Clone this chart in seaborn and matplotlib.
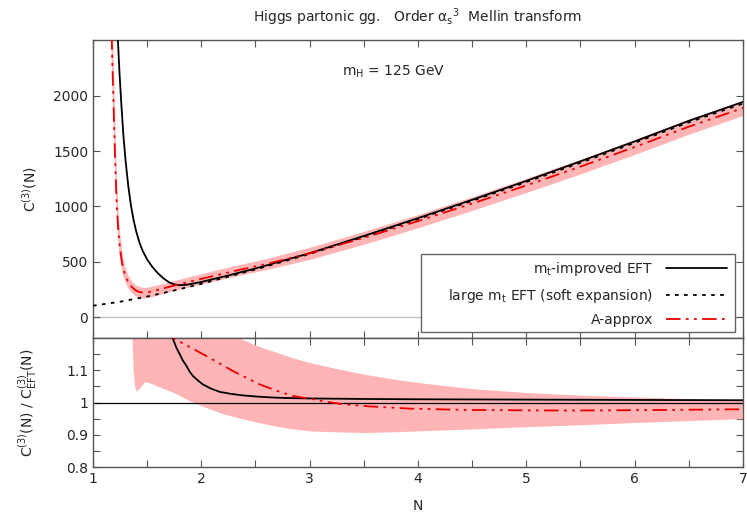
import numpy as np
import seaborn as sns
import matplotlib.pyplot as plt
from matplotlib.patches import Rectangle
from matplotlib.ticker import MultipleLocator, FixedLocator

sns.set_style('ticks')
plt.rcParams['font.family'] = ['DejaVu Sans']
plt.rcParams['mathtext.fontset'] = 'dejavusans'
plt.rcParams['font.size'] = 10

# ---- upper panel: C^(3)(N) ----
n_eft = [1.0, 1.25, 1.5, 1.75, 2.0, 2.5, 3.0, 3.5, 4.0, 4.5, 5.0, 5.5, 6.0, 6.5, 7.0]
c_eft = [102, 138, 185, 240, 300, 430, 570, 725, 885, 1050, 1220, 1395, 1575, 1760, 1930]

n_mt = [1.22, 1.23, 1.245, 1.26, 1.28, 1.30, 1.325, 1.35, 1.375, 1.40, 1.43, 1.46, 1.50,
        1.55, 1.60, 1.65, 1.70, 1.75, 1.80, 1.85, 1.90, 2.0, 2.25, 2.5, 3.0, 3.5,
        4.0, 4.5, 5.0, 5.5, 6.0, 6.5, 7.0]
c_mt = [2750, 2500, 2200, 1950, 1650, 1420, 1190, 1010, 875, 770, 670, 595, 520,
        450, 395, 350, 315, 295, 288, 290, 298, 317, 376, 439, 577, 733,
        894, 1060, 1231, 1408, 1588, 1774, 1945]

n_a = [1.15, 1.165, 1.18, 1.19, 1.20, 1.21, 1.22, 1.235, 1.25, 1.27, 1.29, 1.32, 1.35, 1.39,
       1.43, 1.47, 1.52, 1.6, 1.75, 2.0, 2.3, 2.6, 3.0, 3.5, 4.0, 4.5, 5.0, 5.5, 6.0, 6.5, 7.0]
c_a = [3300, 2800, 2250, 1900, 1560, 1250, 990, 760, 610, 480, 400, 325, 280, 243,
       225, 220, 226, 246, 285, 345, 415, 479, 576, 716, 867, 1026, 1190, 1360, 1537, 1721, 1890]
c_a_lo = [2900, 2420, 1910, 1600, 1300, 1030, 810, 620, 500, 395, 330, 267, 228, 193,
          175, 172, 179, 200, 240, 298, 367, 429, 521, 658, 807, 964, 1126, 1294, 1470, 1653, 1822]
c_a_hi = [3700, 3180, 2590, 2200, 1820, 1470, 1170, 900, 720, 565, 470, 383, 332, 293,
          275, 268, 273, 292, 330, 392, 463, 529, 631, 774, 927, 1088, 1254, 1426, 1604, 1789, 1958]

# ---- lower panel: ratio to large-mt EFT ----
n_rmt = [1.70, 1.738, 1.77, 1.80, 1.83, 1.862, 1.89, 1.923, 1.97, 2.015, 2.09, 2.17, 2.27,
         2.385, 2.53, 2.69, 2.85, 3.03, 3.5, 4.0, 5.0, 6.0, 7.0]
r_mt = [1.26, 1.197, 1.17, 1.15, 1.13, 1.114, 1.097, 1.082, 1.068, 1.056, 1.043, 1.033, 1.027,
        1.022, 1.018, 1.015, 1.0135, 1.0125, 1.011, 1.01, 1.009, 1.008, 1.007]

n_ra = [1.70, 1.754, 2.015, 2.29, 2.54, 2.7, 2.85, 3.03, 3.12, 3.3, 3.55, 3.93, 4.45, 5.37, 6.3, 7.0]
r_a = [1.235, 1.197, 1.15, 1.098, 1.056, 1.036, 1.02, 1.01, 1.004, 0.995, 0.988, 0.981, 0.977,
       0.975, 0.977, 0.979]

n_band = [1.355, 1.36, 1.37, 1.385, 1.40, 1.43, 1.48, 1.53, 1.6, 1.75, 1.9, 2.0, 2.2, 2.35,
          2.5, 2.6, 2.7, 2.85, 3.0, 3.25, 3.5, 3.75, 4.0, 4.5, 5.0, 5.5, 6.0, 6.5, 7.0]
r_band_lo = [1.3, 1.2, 1.10, 1.05, 1.035, 1.045, 1.065, 1.06, 1.05, 1.03, 1.004, 0.99, 0.965, 0.952,
             0.94, 0.933, 0.926, 0.918, 0.912, 0.909, 0.907, 0.909, 0.912, 0.918, 0.925, 0.931,
             0.938, 0.944, 0.95]
r_band_hi = [1.3, 1.3, 1.3, 1.3, 1.3, 1.3, 1.3, 1.3, 1.3, 1.3, 1.3, 1.3, 1.25, 1.2,
             1.178, 1.166, 1.155, 1.138, 1.124, 1.105, 1.088, 1.074, 1.062, 1.043, 1.031, 1.023,
             1.017, 1.012, 1.009]

pink = '#ffb5b5'
red = '#ee0000'
dashdot = (0, (8, 3, 1.5, 3, 1.5, 3))
dotted = (0, (2, 3))

fig = plt.figure(figsize=(7.47, 5.17), dpi=100)
ax1 = fig.add_axes([0.1245, 0.3462, 0.8701, 0.5764])
ax2 = fig.add_axes([0.1245, 0.0967, 0.8701, 0.2495])

# upper panel
ax1.fill_between(n_a, c_a_lo, c_a_hi, color=pink, lw=0, zorder=1)
ax1.axhline(0, color='#c0c0c0', lw=1, zorder=0)
sns.lineplot(x=n_mt, y=c_mt, ax=ax1, color='black', lw=1.3, sort=False,
             label=r'm$_\mathregular{t}$-improved EFT', zorder=3)
sns.lineplot(x=n_eft, y=c_eft, ax=ax1, color='black', lw=1.3, linestyle=dotted, sort=False,
             label=r'large m$_\mathregular{t}$ EFT (soft expansion)', zorder=3)
sns.lineplot(x=n_a, y=c_a, ax=ax1, color=red, lw=1.3, linestyle=dashdot, sort=False,
             label='A-approx', zorder=4)
ax1.set_xlim(1, 7)
ax1.set_ylim(-190, 2505)
ax1.yaxis.set_major_locator(FixedLocator([0, 500, 1000, 1500, 2000]))
ax1.xaxis.set_major_locator(MultipleLocator(1))
ax1.xaxis.set_minor_locator(MultipleLocator(0.5))
ax1.set_xticklabels([])
ax1.set_xlabel('')
ax1.set_ylabel(r'C$^\mathregular{(3)}$(N)')
ax1.yaxis.set_label_coords(-0.083, 0.5)
ax1.text(3.78, 2215, r'm$_\mathregular{H}$ = 125 GeV', ha='center', va='center')
ax1.set_title(r'Higgs partonic gg.   Order $\mathregular{α_s}^\mathregular{3}$  Mellin transform',
              fontsize=10, pad=13)

# legend box drawn as a fixed frame, entries placed inside it
ax1.add_patch(Rectangle((0.5046, 0.02), 0.4834, 0.262, transform=ax1.transAxes,
                        facecolor='white', edgecolor='#666666', lw=1, zorder=9))
leg = ax1.legend(loc='lower right', bbox_to_anchor=(0.982, 0.022), borderaxespad=0,
                 markerfirst=False, frameon=False, handlelength=4.4, handletextpad=0.9,
                 labelspacing=0.62, borderpad=0.3, fontsize=10)
for t in leg.get_texts():
    t.set_ha('right')
leg.set_zorder(10)

# lower panel
ax2.fill_between(n_band, r_band_lo, r_band_hi, color=pink, lw=0, zorder=1)
ax2.axhline(1, color='black', lw=0.9, zorder=2)
sns.lineplot(x=n_rmt, y=r_mt, ax=ax2, color='black', lw=1.3, sort=False, zorder=3)
sns.lineplot(x=n_ra, y=r_a, ax=ax2, color=red, lw=1.3, linestyle=dashdot, sort=False, zorder=4)
ax2.set_xlim(1, 7)
ax2.set_ylim(0.8, 1.2)
ax2.yaxis.set_major_locator(FixedLocator([0.8, 0.9, 1.0, 1.1]))
ax2.set_yticklabels(['0.8', '0.9', '1', '1.1'])
ax2.yaxis.set_minor_locator(FixedLocator([0.85, 0.95, 1.05, 1.15]))
ax2.xaxis.set_major_locator(MultipleLocator(1))
ax2.xaxis.set_minor_locator(MultipleLocator(0.5))
ax2.set_xlabel('N')
ax2.xaxis.set_label_coords(0.5, -0.25)
ax2.set_ylabel(r'C$^\mathregular{(3)}$(N) / C$^\mathregular{(3)}_\mathregular{EFT}$(N)')
ax2.yaxis.set_label_coords(-0.083, 0.5)

for ax in (ax1, ax2):
    ax.tick_params(which='both', direction='in', top=True, right=True,
                   length=5, width=0.8, color='#555555', labelsize=10)
    for s in ax.spines.values():
        s.set_color('#555555')
        s.set_linewidth(1.0)

fig.savefig('out.png', dpi=100)
